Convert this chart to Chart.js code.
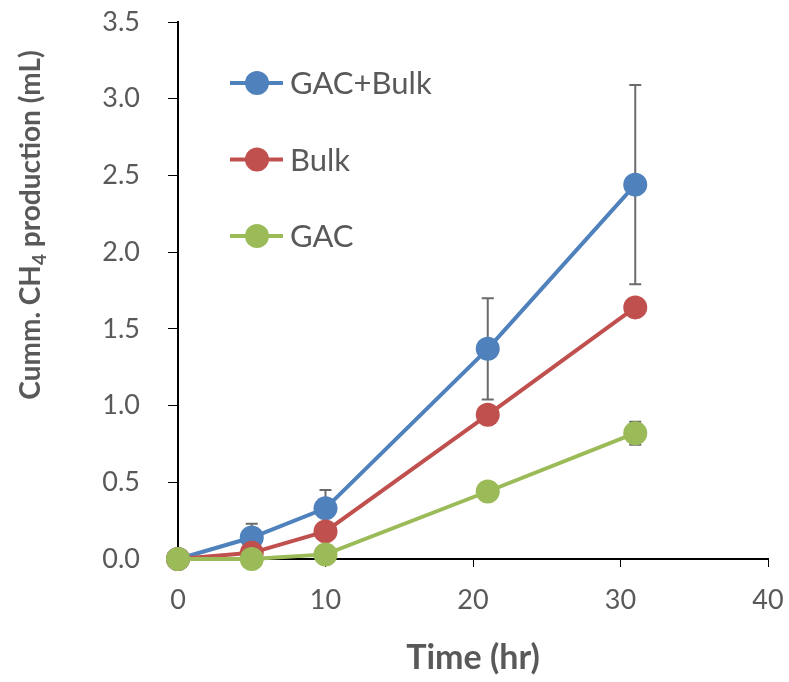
<!DOCTYPE html>
<html>
<head>
<meta charset="utf-8">
<script src="https://cdn.jsdelivr.net/npm/chart.js@4.4.1/dist/chart.umd.min.js"></script>
<style>
  html, body { margin: 0; padding: 0; background: #fff; }
  canvas { display: block; }
</style>
</head>
<body>
<canvas id="chart" width="789" height="682"></canvas>
<script>
// ---- data ----
const tiempos = [0, 5, 10, 21, 31];
const seriesNombres = ["GAC+Bulk", "Bulk", "GAC"];
const gacBulk = [0, 0.14, 0.33, 1.37, 2.44];
const bulk = [0, 0.04, 0.18, 0.94, 1.64];
const gac = [0, 0, 0.03, 0.44, 0.82];
const errGacBulk = [0, 0.09, 0.12, 0.33, 0.65];
const errBulk = [0, 0, 0, 0, 0];
const errGac = [0, 0, 0, 0, 0.075];
const colores = ["#4F81BD", "#C0504D", "#9BBB59"];
const xTicks = [0, 10, 20, 30, 40];
const yTicks = [0, 0.5, 1.0, 1.5, 2.0, 2.5, 3.0, 3.5];

const FONT = "Lato, 'Open Sans', sans-serif";
const GRIS = "#595959";

function puntos(valores) {
  return tiempos.map((t, i) => ({ x: t, y: valores[i] }));
}

const valores = [gacBulk, bulk, gac];
const errores = [errGacBulk, errBulk, errGac];

/* ===========================================
                BARRAS DE ERROR
=========================================== */
const errorBars = {
  id: "errorBars",
  beforeDatasetsDraw(chart) {
    const { ctx, scales } = chart;
    ctx.save();
    ctx.strokeStyle = "#6b6b6b";
    ctx.lineWidth = 2;
    errores.forEach((errs, s) => {
      valores[s].forEach((v, i) => {
        if (!errs[i]) return;
        const x = scales.x.getPixelForValue(tiempos[i]);
        const yTop = scales.y.getPixelForValue(v + errs[i]);
        const yBot = scales.y.getPixelForValue(v - errs[i]);
        ctx.beginPath();
        ctx.moveTo(x, yTop); ctx.lineTo(x, yBot);
        ctx.moveTo(x - 6, yTop); ctx.lineTo(x + 6, yTop);
        ctx.moveTo(x - 6, yBot); ctx.lineTo(x + 6, yBot);
        ctx.stroke();
      });
    });
    ctx.restore();
  }
};

/* ===========================================
          LEYENDA Y TÍTULO EJE Y
=========================================== */
const extras = {
  id: "extras",
  afterDraw(chart) {
    const ctx = chart.ctx;
    ctx.save();
    // leyenda
    seriesNombres.forEach((nombre, i) => {
      const y = 83 + i * 76.5;
      ctx.strokeStyle = colores[i];
      ctx.lineWidth = 4;
      ctx.beginPath();
      ctx.moveTo(230, y); ctx.lineTo(283, y);
      ctx.stroke();
      ctx.fillStyle = colores[i];
      ctx.beginPath();
      ctx.arc(257, y, 12, 0, Math.PI * 2);
      ctx.fill();
      ctx.fillStyle = GRIS;
      ctx.font = "31px " + FONT;
      ctx.textBaseline = "middle";
      ctx.textAlign = "left";
      ctx.fillText(nombre, 290, y + 1);
    });

    // titulo eje Y con subindice
    ctx.translate(40, 225);
    ctx.rotate(-Math.PI / 2);
    ctx.textBaseline = "alphabetic";
    ctx.fillStyle = GRIS;
    const big = "bold 28px " + FONT;
    const small = "bold 19px " + FONT;
    const partes = [["Cumm. CH", big, 0], ["4", small, 6], [" production (mL)", big, 0]];
    let total = 0;
    partes.forEach(p => { ctx.font = p[1]; total += ctx.measureText(p[0]).width; });
    let x = -total / 2;
    partes.forEach(p => {
      ctx.font = p[1];
      ctx.fillText(p[0], x, p[2]);
      x += ctx.measureText(p[0]).width;
    });
    ctx.restore();
  }
};

/* ===========================================
                GRÁFICA
=========================================== */
new Chart(document.getElementById("chart"), {
  type: "line",
  data: {
    datasets: seriesNombres.map((nombre, i) => ({
      label: nombre,
      data: puntos(valores[i]),
      borderColor: colores[i],
      backgroundColor: colores[i],
      borderWidth: 4,
      pointRadius: 12,
      pointHoverRadius: 12,
      pointBorderWidth: 0,
      tension: 0,
      clip: false,
      order: 2 - i
    }))
  },
  options: {
    responsive: false,
    animation: false,
    events: [],
    layout: { padding: 0 },
    plugins: { legend: { display: false }, tooltip: { enabled: false } },
    scales: {
      x: {
        type: "linear",
        min: 0,
        max: 40,
        afterBuildTicks: s => { s.ticks = xTicks.map(v => ({ value: v })); },
        afterFit: s => { s.height = 123; s.paddingRight = 21; s.paddingLeft = 0; },
        grid: { drawOnChartArea: false, drawTicks: true, tickLength: 8, color: "#000" },
        border: { color: "#000", width: 2 },
        ticks: { color: GRIS, font: { family: FONT, size: 27 }, padding: 17 },
        title: {
          display: true,
          text: "Time (hr)",
          color: GRIS,
          font: { family: FONT, size: 34, weight: "bold" },
          padding: { top: 12 }
        }
      },
      y: {
        min: 0,
        max: 3.5,
        afterBuildTicks: s => { s.ticks = yTicks.map(v => ({ value: v })); },
        afterFit: s => { s.width = 178; s.paddingTop = 22; s.paddingBottom = 0; },
        grid: { drawOnChartArea: false, drawTicks: true, tickLength: 10, color: "#000" },
        border: { color: "#000", width: 2 },
        ticks: {
          color: GRIS,
          font: { family: FONT, size: 27 },
          padding: 28,
          callback: v => v.toFixed(1)
        }
      }
    }
  },
  plugins: [errorBars, extras]
});
</script>
</body>
</html>
